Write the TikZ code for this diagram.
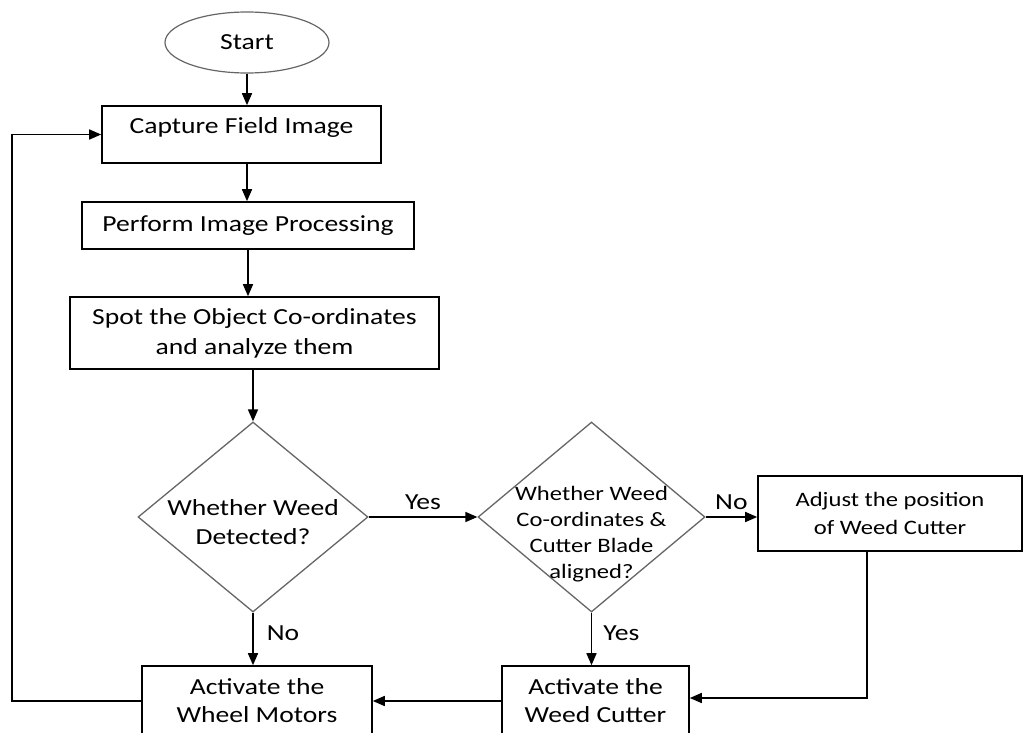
\documentclass[tikz,border=0pt]{standalone}
\usepackage{fontspec}
\setmainfont{Carlito}[FakeStretch=1.2]
\usetikzlibrary{shapes.geometric,arrows.meta}
\begin{document}
\begin{tikzpicture}[x=1pt,y=-1pt,
  font=\fontsize{23}{28}\selectfont,
  box/.style={draw=black,line width=1.6pt,rectangle,inner sep=0pt},
  decision/.style={draw=black!60,line width=1.3pt,diamond,inner sep=0pt},
  term/.style={draw=black!60,line width=1.2pt,ellipse,inner sep=0pt},
  dtext/.style={align=center,inner sep=0pt},
  flow/.style={line width=1.6pt,-{Triangle[length=12pt,width=10pt]}},
  lbl/.style={inner sep=0pt}]
\clip (0,0) rectangle (1033,733);
\fill[white] (0,0) rectangle (1033,733);

% process steps
\node[term,minimum width=164pt,minimum height=61pt] (start) at (247,42.5) {Start};
\node[box,minimum width=279pt,minimum height=57pt,text depth=17pt] (cap) at (241.5,134.5) {Capture Field Image};
\node[box,minimum width=332pt,minimum height=47pt] (perf) at (248,225.5) {Perform Image Processing};
\node[box,align=center,minimum width=369pt,minimum height=72pt,font=\fontsize{23}{30}\selectfont] (spot) at (254.5,333) {Spot the Object Co-ordinates\\and analyze them};

% decisions
\node[decision,minimum width=230pt,minimum height=190pt] (d1) at (253,517) {};
\node[dtext,font=\fontsize{23}{29}\selectfont] (d1t) at ([yshift=-5pt]d1.center) {Whether Weed\\Detected?};
\node[decision,minimum width=227pt,minimum height=190pt] (d2) at (591.5,517) {};
\node[dtext,font=\fontsize{20.5}{26}\selectfont] (d2t) at ([yshift=-17pt]d2.center) {Whether Weed\\Co-ordinates \&\\Cutter Blade\\aligned?};

\node[box,align=center,minimum width=264pt,minimum height=75pt,font=\fontsize{20.5}{28}\selectfont] (adj) at (890,513.5) {Adjust the position\\of Weed Cutter};
\node[box,align=center,minimum width=187pt,minimum height=70pt] (wc) at (595.5,701) {Activate the\\Weed Cutter};
\node[box,align=center,minimum width=230pt,minimum height=70pt] (wm) at (257,701) {Activate the\\Wheel Motors};
\coordinate (loop) at (12,0);

% connectors
\draw[flow] (start.south) -- (start.south |- cap.north);
\draw[flow] (start.south |- cap.south) -- (start.south |- perf.north);
\draw[flow] (perf.south) -- (perf.south |- spot.north);
\draw[flow] (spot.south -| d1.north) -- (d1.north);
\draw[flow] (d1.east) -- node[lbl,midway,above=7pt] (y1) {Yes} (d2.west);
\draw[flow] (d2.east) -- node[lbl,midway,above=7pt] (n2) {No} (d2.east -| adj.west);
\draw[flow] (d2.south) -- node[lbl,pos=0.4,right=11pt] (y2) {Yes} (d2.south |- wc.north);
\draw[flow] (d1.south) -- node[lbl,pos=0.4,right=13pt] (n1) {No} (d1.south |- wm.north);
\draw[flow] ([xshift=-23pt]adj.south) |- ([yshift=3pt]wc.east);
\draw[flow] (wc.west) -- (wm.east);
\draw[flow] (wm.west) -- (wm.west -| loop) |- (cap.west);
\end{tikzpicture}
\end{document}
